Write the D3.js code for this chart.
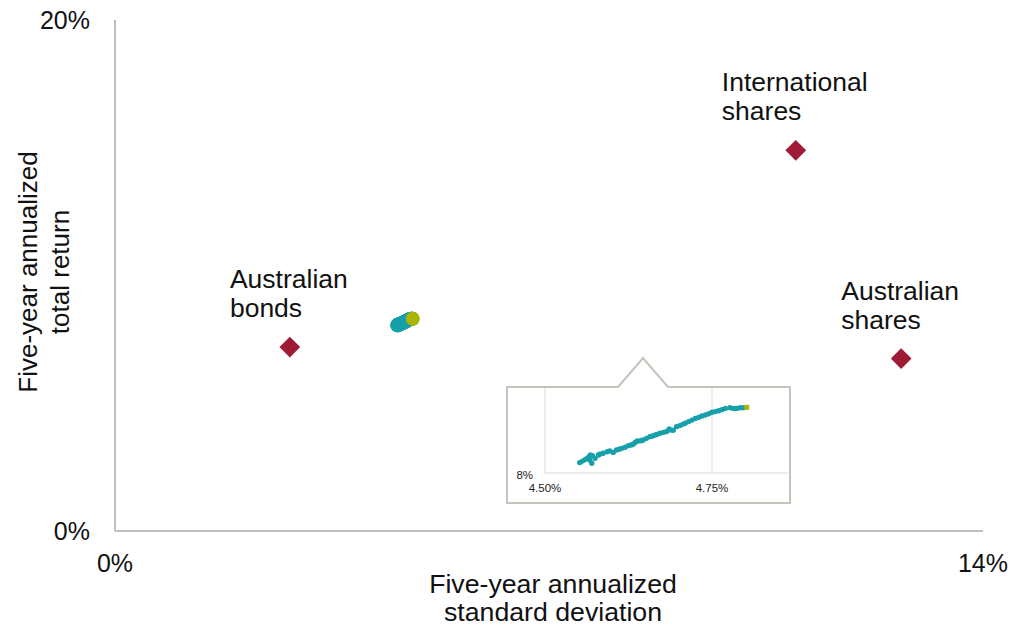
<!DOCTYPE html>
<html>
<head>
<meta charset="utf-8">
<script src="https://cdn.jsdelivr.net/npm/d3@7"></script>
<style>
  html, body { margin: 0; padding: 0; background: #ffffff; }
  svg { display: block; font-family: "Liberation Sans", Arial, sans-serif; }
</style>
</head>
<body>
<svg id="chart" width="1015" height="629"></svg>
<script>
// Asset classes (risk / return, %)
const assetLabels = [["Australian", "bonds"], ["International", "shares"], ["Australian", "shares"]];
const assetRisk = [2.82, 10.98, 12.68];
const assetReturn = [7.2, 14.9, 6.75];

// Balanced-portfolio combinations (risk / return, %)
const mixRisk = [
  4.552, 4.556, 4.560, 4.563, 4.566, 4.568, 4.571, 4.567, 4.570, 4.575,
  4.580, 4.582, 4.587, 4.593, 4.597, 4.602, 4.607, 4.611, 4.615, 4.620,
  4.625, 4.629, 4.632, 4.635, 4.638, 4.642, 4.645, 4.647, 4.652, 4.657,
  4.661, 4.665, 4.668, 4.672, 4.677, 4.682, 4.686, 4.688, 4.692, 4.697,
  4.702, 4.706, 4.710, 4.715, 4.720, 4.725, 4.730, 4.735, 4.740, 4.745,
  4.750, 4.755, 4.760, 4.765, 4.770, 4.777, 4.782, 4.787, 4.792, 4.797
];
const mixReturn = [
  8.049, 8.056, 8.063, 8.069, 8.077, 8.085, 8.082, 8.061, 8.046, 8.069,
  8.085, 8.088, 8.093, 8.100, 8.104, 8.097, 8.108, 8.112, 8.116, 8.121,
  8.129, 8.132, 8.135, 8.144, 8.151, 8.151, 8.153, 8.155, 8.163, 8.171,
  8.174, 8.179, 8.182, 8.187, 8.191, 8.195, 8.207, 8.202, 8.201, 8.218,
  8.223, 8.229, 8.234, 8.242, 8.249, 8.257, 8.262, 8.268, 8.273, 8.279,
  8.286, 8.289, 8.293, 8.298, 8.304, 8.307, 8.304, 8.304, 8.307, 8.307
];
// Current portfolio (highlighted)
const currentRisk = [4.802];
const currentReturn = [8.309];

const xTickValues = [0, 14];
const yTickValues = [0, 20];
const insetXTicks = [4.5, 4.75];
const insetYTicks = [8];

const colors = { asset: "#9e1b35", mix: "#17a0a9", current: "#abb400", axis: "#bfbfbf", frame: "#c8c3ba", grid: "#d9d9d9" };

const svg = d3.select("#chart");

// ---------- main plot ----------
const x = d3.scaleLinear().domain([0, 14]).range([115, 983]);
const y = d3.scaleLinear().domain([0, 20]).range([531, 20]);

svg.append("line")
  .attr("x1", x(0)).attr("x2", x(0)).attr("y1", y(20)).attr("y2", y(0))
  .attr("stroke", colors.axis).attr("stroke-width", 2);
svg.append("line")
  .attr("x1", x(0)).attr("x2", x(14)).attr("y1", y(0)).attr("y2", y(0))
  .attr("stroke", colors.axis).attr("stroke-width", 2);

const pct = d => d3.format("d")(d) + "%";

svg.selectAll("text.ytick").data(yTickValues).join("text")
  .attr("class", "ytick")
  .attr("x", x(0) - 25).attr("y", d => y(d)).attr("dy", "0.36em")
  .attr("text-anchor", "end").attr("font-size", 25).attr("fill", "#111")
  .text(pct);

svg.selectAll("text.xtick").data(xTickValues).join("text")
  .attr("class", "xtick")
  .attr("x", d => x(d)).attr("y", y(0) + 41)
  .attr("text-anchor", "middle").attr("font-size", 25).attr("fill", "#111")
  .text(pct);

// axis titles
const xTitle = svg.append("text").attr("text-anchor", "middle").attr("font-size", 26.7).attr("fill", "#111");
xTitle.append("tspan").attr("x", 553).attr("y", 593).text("Five-year annualized");
xTitle.append("tspan").attr("x", 553).attr("y", 621).text("standard deviation");

const yTitle = svg.append("text").attr("text-anchor", "middle").attr("font-size", 26).attr("fill", "#111")
  .attr("transform", "translate(0,272) rotate(-90)");
yTitle.append("tspan").attr("x", 0).attr("y", 37).text("Five-year annualized");
yTitle.append("tspan").attr("x", 0).attr("y", 69).text("total return");

// portfolio cloud
svg.append("g").selectAll("circle").data(mixRisk).join("circle")
  .attr("cx", d => x(d)).attr("cy", (d, i) => y(mixReturn[i]))
  .attr("r", 7).attr("fill", colors.mix);
svg.append("g").selectAll("circle").data(currentRisk).join("circle")
  .attr("cx", d => x(d)).attr("cy", (d, i) => y(currentReturn[i]))
  .attr("r", 7).attr("fill", colors.current);

// asset-class markers
const diamond = d3.symbol().type(d3.symbolSquare).size(215);
svg.append("g").selectAll("path").data(assetRisk).join("path")
  .attr("transform", (d, i) => `translate(${x(d)},${y(assetReturn[i])}) rotate(45)`)
  .attr("d", diamond).attr("fill", colors.asset);

// asset-class labels: left-aligned block centred over its marker
assetLabels.forEach((lines, i) => {
  const px = x(assetRisk[i]), py = y(assetReturn[i]);
  const t = svg.append("text").attr("font-size", 26.5).attr("fill", "#111");
  const spans = lines.map((s, k) => t.append("tspan").attr("y", py - 59 + k * 29).text(s));
  const w = d3.max(spans, s => s.node().getComputedTextLength());
  spans.forEach(s => s.attr("x", px - w / 2 - 1));
});

// ---------- zoomed inset ----------
const ix = d3.scaleLinear().domain([4.5, 4.75]).range([545, 712]);
const iy = d3.scaleLinear().domain([8, 8.4]).range([473, 388]);
const box = { x0: 507, x1: 790, y0: 387, y1: 503 };
const pointer = { left: 618, right: 668, tipX: 643, tipY: 358 };

svg.append("rect")
  .attr("x", box.x0).attr("y", box.y0).attr("width", box.x1 - box.x0).attr("height", box.y1 - box.y0)
  .attr("fill", "#fff").attr("stroke", colors.frame).attr("stroke-width", 2);
svg.append("path")
  .attr("d", `M${pointer.left},${box.y0 + 1}L${pointer.tipX},${pointer.tipY}L${pointer.right},${box.y0 + 1}Z`)
  .attr("fill", "#fff").attr("stroke", "none");
svg.append("path")
  .attr("d", `M${pointer.left},${box.y0}L${pointer.tipX},${pointer.tipY}L${pointer.right},${box.y0}`)
  .attr("fill", "none").attr("stroke", colors.frame).attr("stroke-width", 2);

svg.append("line")
  .attr("x1", ix(4.75)).attr("x2", ix(4.75)).attr("y1", iy(8.4)).attr("y2", iy(8))
  .attr("stroke", colors.grid).attr("stroke-width", 1);
svg.append("line")
  .attr("x1", ix(4.5)).attr("x2", ix(4.5)).attr("y1", iy(8.4)).attr("y2", iy(8))
  .attr("stroke", colors.grid).attr("stroke-width", 1);
svg.append("line")
  .attr("x1", ix(4.5)).attr("x2", 788).attr("y1", iy(8)).attr("y2", iy(8))
  .attr("stroke", colors.grid).attr("stroke-width", 1);

const pct2 = d => d3.format(".2f")(d) + "%";
svg.selectAll("text.ixtick").data(insetXTicks).join("text")
  .attr("class", "ixtick")
  .attr("x", d => ix(d)).attr("y", iy(8) + 19)
  .attr("text-anchor", "middle").attr("font-size", 11.5).attr("fill", "#222")
  .text(pct2);
svg.selectAll("text.iytick").data(insetYTicks).join("text")
  .attr("class", "iytick")
  .attr("x", ix(4.5) - 12).attr("y", d => iy(d) + 6)
  .attr("text-anchor", "end").attr("font-size", 11.5).attr("fill", "#222")
  .text(d => d + "%");

svg.append("g").selectAll("circle").data(mixRisk).join("circle")
  .attr("cx", d => ix(d)).attr("cy", (d, i) => iy(mixReturn[i]))
  .attr("r", 2.7).attr("fill", colors.mix);
svg.append("g").selectAll("rect").data(currentRisk).join("rect")
  .attr("x", d => ix(d) - 2.5).attr("y", (d, i) => iy(currentReturn[i]) - 2.5)
  .attr("width", 5).attr("height", 5).attr("fill", colors.current);
</script>
</body>
</html>
